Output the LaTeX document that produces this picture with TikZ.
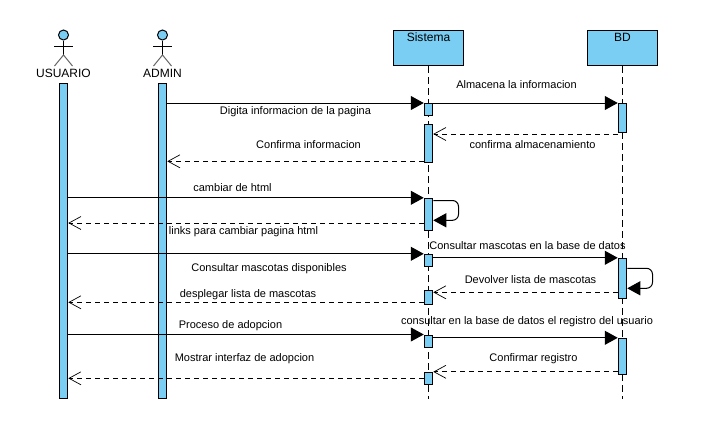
\documentclass[tikz,border=0pt]{standalone}
\usepackage{fontspec}
\setmainfont{Liberation Sans}
\usetikzlibrary{arrows.meta}
\definecolor{barblue}{HTML}{7ACEF4}
\tikzset{
  lifebox/.style={draw,line width=1pt,fill=barblue,minimum width=70pt,minimum height=35pt,anchor=north,text depth=22.5pt,text height=10pt,inner sep=0pt,font=\fontsize{12}{14}\selectfont},
  actbar/.style={draw,line width=1pt,fill=barblue,minimum width=8.5pt,inner sep=0pt},
  lifeline/.style={line width=1pt,dash pattern=on 7pt off 4pt},
  call/.style={line width=1pt,-{Triangle[length=13pt,width=14pt]}},
  reply/.style={line width=1pt,dash pattern=on 5pt off 4pt,-{Straight Barb[length=12pt,width=13pt,line width=0.7pt]}},
  msglabel/.style={font=\fontsize{11}{12}\selectfont,inner sep=0pt,text height=8pt,text depth=2.3pt,yshift=-0.8pt},
  actorname/.style={font=\fontsize{12}{14}\selectfont,inner sep=0pt},
  head/.style={draw,line width=1pt,circle,fill=barblue,minimum size=10pt,inner sep=0pt},
}
\newcommand{\actorfig}[2]{
    \node[head] (#1head) at (#2,35) {};
    \draw[line width=1pt] (#1head.south) -- (#2,55);
    \draw[line width=1pt] (#2-9.5,46) -- (#2+9.5,46);
    \draw[line width=1pt,gray!80!black] (#2-9,66) -- (#2,55) -- (#2+9,66);
}
\newcommand{\actbarnode}[4]{\node[actbar,minimum height=#4pt-#3pt] (#1) at (#2,{(#3+#4)/2}) {};}
\begin{document}
\begin{tikzpicture}[x=1pt,y=-1pt]
    \useasboundingbox (0,0) rectangle (720,421);
    % actors
    \actorfig{usuario}{63.5}
    \actorfig{admin}{162.5}
    \node[actorname] (usuariolabel) at (63.5,73) {USUARIO};
    \node[actorname] (adminlabel) at (162.5,73) {ADMIN};
    % lifelines
    \node[lifebox] (sistema) at (428.5,30) {Sistema};
    \node[lifebox] (bd) at (622.5,30) {BD};
    \coordinate (sistemaend) at (428.5,399);
    \coordinate (bdend) at (622.5,399);
    \draw[lifeline] (sistema.south) -- (sistemaend);
    \draw[lifeline] (bd.south) -- (bdend);
    % bars
    \actbarnode{barU}{63.5}{83}{398}
    \actbarnode{barA}{162.5}{83}{398}
    \actbarnode{sA}{428.5}{103.5}{115.5}
    \actbarnode{sB}{428.5}{124.5}{162}
    \actbarnode{sC}{428.5}{198.3}{230.3}
    \actbarnode{sD}{428.5}{254.3}{266.3}
    \actbarnode{sE}{428.5}{290.3}{304.3}
    \actbarnode{sF}{428.5}{335}{347.7}
    \actbarnode{sG}{428.5}{372.3}{384.3}
    \actbarnode{bA}{622.5}{103.5}{132.3}
    \actbarnode{bB}{622.5}{258.3}{298.3}
    \actbarnode{bC}{622.5}{338.3}{374.3}
    % messages
    \draw[call] (barA.east |- sA.north) -- (sA.north west);
    \draw[call] (sA.north east) -- (bA.north west);
    \draw[reply] (bA.west |- 0,134) -- (sB.east |- 0,134);
    \draw[reply] (sB.west |- 0,161.3) -- (barA.east |- 0,161.3);
    \draw[call] (barU.east |- sC.north) -- (sC.north west);
    \draw[call,rounded corners=6pt] (sC.east |- 0,200.5) -- (458.5,200.5) -- (458.5,220.3) -- (sC.east |- 0,220.3);
    \draw[reply] (sC.west |- 0,223) -- (barU.east |- 0,223);
    \draw[call] (barU.east |- sD.north) -- (sD.north west);
    \draw[call] (sD.east |- bB.north) -- (bB.north west);
    \draw[call,rounded corners=6pt] (bB.east |- 0,268.3) -- (652.5,268.3) -- (652.5,288.3) -- (bB.east |- 0,288.3);
    \draw[reply] (bB.west |- 0,292.3) -- (sE.east |- 0,292.3);
    \draw[reply] (sE.west |- 0,302.3) -- (barU.east |- 0,302.3);
    \draw[call] (barU.east |- sF.north) -- (sF.north west);
    \draw[call] (sF.east |- bC.north) -- (bC.north west);
    \draw[reply] (bC.west |- sG.north) -- (sG.north east);
    \draw[reply] (sG.west |- 0,378.3) -- (barU.east |- 0,378.3);
    % labels
    \node[msglabel] (m1) at (516.5,85) {Almacena la informacion};
    \node[msglabel] (m2) at (295.5,111) {Digita informacion de la pagina};
    \node[msglabel] (m3) at (308.5,145) {Confirma informacion};
    \node[msglabel] (m4) at (532.5,145) {confirma almacenamiento};
    \node[msglabel] (m5) at (232.5,188) {cambiar de html};
    \node[msglabel] (m6) at (243.5,231) {links para cambiar pagina html};
    \node[msglabel] (m7) at (527.5,246) {Consultar mascotas en la base de datos};
    \node[msglabel] (m8) at (269,268) {Consultar mascotas disponibles};
    \node[msglabel] (m9) at (530.5,280) {Devolver lista de mascotas};
    \node[msglabel] (m10) at (248,294) {desplegar lista de mascotas};
    \node[msglabel] (m11) at (230.5,325) {Proceso de adopcion};
    \node[msglabel] (m12) at (527,321) {consultar en la base de datos el registro del usuario};
    \node[msglabel] (m13) at (244.5,358) {Mostrar interfaz de adopcion};
    \node[msglabel] (m14) at (533.5,358) {Confirmar registro};
\end{tikzpicture}
\end{document}
